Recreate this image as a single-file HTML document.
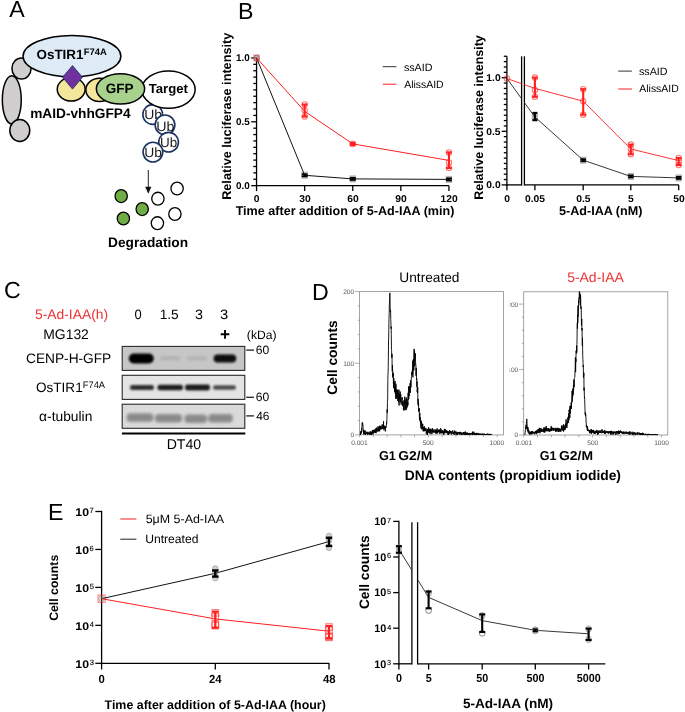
<!DOCTYPE html>
<html><head><meta charset="utf-8"><title>Figure</title>
<style>
html,body{margin:0;padding:0;background:#fff;}
svg{display:block;will-change:transform;}
text{font-family:"Liberation Sans",sans-serif;text-rendering:geometricPrecision;}
</style></head>
<body>
<svg width="685" height="712" viewBox="0 0 685 712">
<text x="9.25" y="17.00" font-size="23.20" font-weight="normal" fill="#000">A</text>
<text x="238.00" y="19.00" font-size="23.20" font-weight="normal" fill="#000">B</text>
<text x="4.12" y="298.30" font-size="23.20" font-weight="normal" fill="#000">C</text>
<text x="311.90" y="299.80" font-size="23.20" font-weight="normal" fill="#000">D</text>
<text x="48.00" y="520.00" font-size="23.20" font-weight="normal" fill="#000">E</text>
<ellipse cx="21.50" cy="68.50" rx="9.55" ry="10.45" fill="#d0cece" stroke="#000" stroke-width="1.5"/>
<ellipse cx="11.80" cy="99.80" rx="9.45" ry="24.15" fill="#d0cece" stroke="#000" stroke-width="1.5"/>
<ellipse cx="19.80" cy="130.50" rx="9.95" ry="11.05" fill="#d0cece" stroke="#000" stroke-width="1.5"/>
<ellipse cx="71.20" cy="89.30" rx="13.95" ry="11.75" fill="#f4e69a" stroke="#000" stroke-width="1.5"/>
<ellipse cx="71.95" cy="56.15" rx="48.90" ry="20.70" fill="#deebf7" stroke="#000" stroke-width="1.5"/>
<ellipse cx="99.70" cy="89.85" rx="13.85" ry="11.65" fill="#f4e69a" stroke="#000" stroke-width="1.5"/>
<circle cx="152.7" cy="114.5" r="9.85" fill="#fff" stroke="#1c3260" stroke-width="1.6"/>
<text x="144.22" y="118.80" font-size="13.33" font-weight="normal" fill="#1a1a1a" textLength="17.87" lengthAdjust="spacingAndGlyphs">Ub</text>
<circle cx="165.0" cy="124.9" r="9.85" fill="#fff" stroke="#1c3260" stroke-width="1.6"/>
<text x="156.20" y="131.00" font-size="13.33" font-weight="normal" fill="#1a1a1a" textLength="18.20" lengthAdjust="spacingAndGlyphs">Ub</text>
<circle cx="168.6" cy="142.2" r="9.85" fill="#fff" stroke="#1c3260" stroke-width="1.6"/>
<text x="159.96" y="147.00" font-size="13.33" font-weight="normal" fill="#1a1a1a" textLength="17.21" lengthAdjust="spacingAndGlyphs">Ub</text>
<circle cx="152.9" cy="152.1" r="9.85" fill="#fff" stroke="#1c3260" stroke-width="1.6"/>
<text x="144.23" y="157.40" font-size="13.33" font-weight="normal" fill="#1a1a1a" textLength="17.76" lengthAdjust="spacingAndGlyphs">Ub</text>
<ellipse cx="168.50" cy="89.60" rx="26.65" ry="18.65" fill="#fff" stroke="#000" stroke-width="1.5"/>
<ellipse cx="120.50" cy="88.85" rx="24.15" ry="15.15" fill="#a9d18e" stroke="#000" stroke-width="1.5"/>
<polygon points="72.5,65.6 82.4,77.3 72.5,89.1 62.6,77.3" fill="#7030a0" stroke="#1f3864" stroke-width="0.9"/>
<text x="36.55" y="59.40" font-size="13.40" font-weight="bold" fill="#000">OsTIR1</text>
<text x="83.77" y="54.80" font-size="9.40" font-weight="bold" fill="#000">F74A</text>
<text x="30.20" y="117.80" font-size="13.69" font-weight="bold" fill="#000">mAID-vhhGFP4</text>
<text x="105.75" y="93.30" font-size="13.53" font-weight="bold" fill="#000">GFP</text>
<text x="148.66" y="93.30" font-size="13.15" font-weight="bold" fill="#000">Target</text>
<line x1="148.30" y1="170.00" x2="148.30" y2="188.00" stroke="#222" stroke-width="1.0"/>
<polygon points="145.2,186.8 151.4,186.8 148.3,193.8" fill="#111"/>
<ellipse cx="121.20" cy="196.10" rx="6.15" ry="6.45" fill="#70ad47" stroke="#000" stroke-width="1.3"/>
<ellipse cx="123.40" cy="218.50" rx="6.15" ry="6.45" fill="#70ad47" stroke="#000" stroke-width="1.3"/>
<ellipse cx="142.20" cy="209.10" rx="6.15" ry="6.45" fill="#70ad47" stroke="#000" stroke-width="1.3"/>
<ellipse cx="157.90" cy="198.70" rx="6.15" ry="6.45" fill="#fff" stroke="#000" stroke-width="1.3"/>
<ellipse cx="177.10" cy="188.50" rx="6.15" ry="6.45" fill="#fff" stroke="#000" stroke-width="1.3"/>
<ellipse cx="174.90" cy="214.00" rx="6.15" ry="6.45" fill="#fff" stroke="#000" stroke-width="1.3"/>
<ellipse cx="157.40" cy="223.20" rx="6.15" ry="6.45" fill="#fff" stroke="#000" stroke-width="1.3"/>
<text x="108.08" y="246.70" font-size="13.71" font-weight="bold" fill="#000">Degradation</text>
<line x1="256.55" y1="57.35" x2="256.55" y2="186.30" stroke="#000" stroke-width="1.3"/>
<line x1="255.95" y1="185.65" x2="448.90" y2="185.65" stroke="#000" stroke-width="1.3"/>
<line x1="251.20" y1="185.65" x2="256.55" y2="185.65" stroke="#000" stroke-width="1.3"/>
<line x1="253.30" y1="179.27" x2="256.55" y2="179.27" stroke="#000" stroke-width="1.3"/>
<line x1="253.30" y1="172.88" x2="256.55" y2="172.88" stroke="#000" stroke-width="1.3"/>
<line x1="253.30" y1="166.50" x2="256.55" y2="166.50" stroke="#000" stroke-width="1.3"/>
<line x1="253.30" y1="160.11" x2="256.55" y2="160.11" stroke="#000" stroke-width="1.3"/>
<line x1="253.30" y1="153.72" x2="256.55" y2="153.72" stroke="#000" stroke-width="1.3"/>
<line x1="253.30" y1="147.34" x2="256.55" y2="147.34" stroke="#000" stroke-width="1.3"/>
<line x1="253.30" y1="140.95" x2="256.55" y2="140.95" stroke="#000" stroke-width="1.3"/>
<line x1="253.30" y1="134.57" x2="256.55" y2="134.57" stroke="#000" stroke-width="1.3"/>
<line x1="253.30" y1="128.19" x2="256.55" y2="128.19" stroke="#000" stroke-width="1.3"/>
<line x1="251.20" y1="121.80" x2="256.55" y2="121.80" stroke="#000" stroke-width="1.3"/>
<line x1="253.30" y1="115.41" x2="256.55" y2="115.41" stroke="#000" stroke-width="1.3"/>
<line x1="253.30" y1="109.03" x2="256.55" y2="109.03" stroke="#000" stroke-width="1.3"/>
<line x1="253.30" y1="102.64" x2="256.55" y2="102.64" stroke="#000" stroke-width="1.3"/>
<line x1="253.30" y1="96.26" x2="256.55" y2="96.26" stroke="#000" stroke-width="1.3"/>
<line x1="253.30" y1="89.88" x2="256.55" y2="89.88" stroke="#000" stroke-width="1.3"/>
<line x1="253.30" y1="83.49" x2="256.55" y2="83.49" stroke="#000" stroke-width="1.3"/>
<line x1="253.30" y1="77.10" x2="256.55" y2="77.10" stroke="#000" stroke-width="1.3"/>
<line x1="253.30" y1="70.72" x2="256.55" y2="70.72" stroke="#000" stroke-width="1.3"/>
<line x1="253.30" y1="64.33" x2="256.55" y2="64.33" stroke="#000" stroke-width="1.3"/>
<line x1="251.20" y1="57.95" x2="256.55" y2="57.95" stroke="#000" stroke-width="1.3"/>
<line x1="256.55" y1="185.65" x2="256.55" y2="191.10" stroke="#000" stroke-width="1.3"/>
<text x="253.89" y="202.30" font-size="9.90" font-weight="bold" fill="#000" textLength="5.73" lengthAdjust="spacingAndGlyphs">0</text>
<line x1="304.65" y1="185.65" x2="304.65" y2="191.10" stroke="#000" stroke-width="1.3"/>
<text x="299.22" y="202.30" font-size="9.90" font-weight="bold" fill="#000" textLength="11.45" lengthAdjust="spacingAndGlyphs">30</text>
<line x1="352.75" y1="185.65" x2="352.75" y2="191.10" stroke="#000" stroke-width="1.3"/>
<text x="347.25" y="202.30" font-size="9.90" font-weight="bold" fill="#000" textLength="11.45" lengthAdjust="spacingAndGlyphs">60</text>
<line x1="400.85" y1="185.65" x2="400.85" y2="191.10" stroke="#000" stroke-width="1.3"/>
<text x="395.36" y="202.30" font-size="9.90" font-weight="bold" fill="#000" textLength="11.45" lengthAdjust="spacingAndGlyphs">90</text>
<line x1="448.95" y1="185.65" x2="448.95" y2="191.10" stroke="#000" stroke-width="1.3"/>
<text x="440.45" y="202.30" font-size="9.90" font-weight="bold" fill="#000" textLength="17.18" lengthAdjust="spacingAndGlyphs">120</text>
<text x="236.04" y="61.15" font-size="9.90" font-weight="bold" fill="#000">1.0</text>
<text x="235.92" y="125.00" font-size="9.90" font-weight="bold" fill="#000">0.5</text>
<text x="236.04" y="188.85" font-size="9.90" font-weight="bold" fill="#000">0.0</text>
<text transform="translate(230.60,199.85) rotate(-90)" font-size="12.70" font-weight="bold" fill="#000">Relative luciferase intensity</text>
<text x="235.66" y="214.50" font-size="12.59" font-weight="bold" fill="#000">Time after addition of 5-Ad-IAA (min)</text>
<line x1="382.70" y1="66.70" x2="396.40" y2="66.70" stroke="#333" stroke-width="1.0"/>
<text x="403.90" y="70.70" font-size="10.73" font-weight="normal" fill="#000">ssAID</text>
<line x1="382.70" y1="84.20" x2="396.40" y2="84.20" stroke="#ff1f1f" stroke-width="1.0"/>
<text x="404.18" y="87.70" font-size="10.46" font-weight="normal" fill="#000">AlissAID</text>
<rect x="253.40" y="54.40" width="6.3" height="7" fill="#9a9a9a" fill-opacity="0.75"/>
<rect x="301.50" y="171.80" width="6.3" height="7" fill="#9a9a9a" fill-opacity="0.75"/>
<rect x="349.60" y="175.40" width="6.3" height="7" fill="#9a9a9a" fill-opacity="0.75"/>
<rect x="445.80" y="175.90" width="6.3" height="7" fill="#9a9a9a" fill-opacity="0.75"/>
<polyline points="256.55,57.90 304.65,175.30 352.75,178.90 448.95,179.40" fill="none" stroke="#111" stroke-width="1.0"/>
<line x1="304.65" y1="174.30" x2="304.65" y2="176.30" stroke="#000" stroke-width="1.8"/>
<line x1="301.65" y1="174.30" x2="307.65" y2="174.30" stroke="#000" stroke-width="1.8"/>
<line x1="301.65" y1="176.30" x2="307.65" y2="176.30" stroke="#000" stroke-width="1.8"/>
<line x1="352.75" y1="177.90" x2="352.75" y2="179.90" stroke="#000" stroke-width="1.8"/>
<line x1="349.75" y1="177.90" x2="355.75" y2="177.90" stroke="#000" stroke-width="1.8"/>
<line x1="349.75" y1="179.90" x2="355.75" y2="179.90" stroke="#000" stroke-width="1.8"/>
<line x1="448.95" y1="178.40" x2="448.95" y2="180.40" stroke="#000" stroke-width="1.8"/>
<line x1="445.95" y1="178.40" x2="451.95" y2="178.40" stroke="#000" stroke-width="1.8"/>
<line x1="445.95" y1="180.40" x2="451.95" y2="180.40" stroke="#000" stroke-width="1.8"/>
<polyline points="256.55,57.90 304.65,111.30 352.75,143.90 448.95,160.40" fill="none" stroke="#ff1f1f" stroke-width="1.0"/>
<circle cx="304.65" cy="104.50" r="2.7" fill="none" stroke="#ff1f1f" stroke-opacity="0.6" stroke-width="1.1"/>
<circle cx="304.65" cy="110.20" r="2.7" fill="none" stroke="#ff1f1f" stroke-opacity="0.6" stroke-width="1.1"/>
<circle cx="304.65" cy="116.50" r="2.7" fill="none" stroke="#ff1f1f" stroke-opacity="0.6" stroke-width="1.1"/>
<line x1="304.65" y1="104.50" x2="304.65" y2="116.50" stroke="#ff1f1f" stroke-width="2.1"/>
<line x1="301.90" y1="104.50" x2="307.40" y2="104.50" stroke="#ff1f1f" stroke-width="2.1"/>
<line x1="301.90" y1="116.50" x2="307.40" y2="116.50" stroke="#ff1f1f" stroke-width="2.1"/>
<circle cx="352.75" cy="143.9" r="3.5" fill="#ff1f1f" fill-opacity="0.5"/>
<rect x="349.95" y="141.8" width="5.6" height="4.2" fill="#ff1f1f"/>
<circle cx="448.95" cy="152.40" r="2.7" fill="none" stroke="#ff1f1f" stroke-opacity="0.6" stroke-width="1.1"/>
<circle cx="448.95" cy="162.50" r="2.7" fill="none" stroke="#ff1f1f" stroke-opacity="0.6" stroke-width="1.1"/>
<circle cx="448.95" cy="168.00" r="2.7" fill="none" stroke="#ff1f1f" stroke-opacity="0.6" stroke-width="1.1"/>
<line x1="448.95" y1="152.40" x2="448.95" y2="168.00" stroke="#ff1f1f" stroke-width="2.1"/>
<line x1="446.20" y1="152.40" x2="451.70" y2="152.40" stroke="#ff1f1f" stroke-width="2.1"/>
<line x1="446.20" y1="168.00" x2="451.70" y2="168.00" stroke="#ff1f1f" stroke-width="2.1"/>
<circle cx="256.55" cy="57.90" r="2.7" fill="none" stroke="#ff1f1f" stroke-opacity="0.6" stroke-width="1.1"/>
<line x1="506.90" y1="56.26" x2="506.90" y2="185.55" stroke="#000" stroke-width="1.3"/>
<line x1="506.30" y1="184.90" x2="521.60" y2="184.90" stroke="#000" stroke-width="1.3"/>
<line x1="524.40" y1="184.90" x2="678.90" y2="184.90" stroke="#000" stroke-width="1.3"/>
<line x1="521.60" y1="56.30" x2="521.60" y2="185.55" stroke="#000" stroke-width="1.3"/>
<line x1="524.40" y1="56.30" x2="524.40" y2="185.55" stroke="#000" stroke-width="1.3"/>
<line x1="501.70" y1="184.90" x2="506.90" y2="184.90" stroke="#000" stroke-width="1.3"/>
<line x1="503.80" y1="179.54" x2="506.90" y2="179.54" stroke="#000" stroke-width="1.3"/>
<line x1="503.80" y1="174.18" x2="506.90" y2="174.18" stroke="#000" stroke-width="1.3"/>
<line x1="503.80" y1="168.82" x2="506.90" y2="168.82" stroke="#000" stroke-width="1.3"/>
<line x1="503.80" y1="163.46" x2="506.90" y2="163.46" stroke="#000" stroke-width="1.3"/>
<line x1="503.80" y1="158.10" x2="506.90" y2="158.10" stroke="#000" stroke-width="1.3"/>
<line x1="503.80" y1="152.74" x2="506.90" y2="152.74" stroke="#000" stroke-width="1.3"/>
<line x1="503.80" y1="147.38" x2="506.90" y2="147.38" stroke="#000" stroke-width="1.3"/>
<line x1="503.80" y1="142.02" x2="506.90" y2="142.02" stroke="#000" stroke-width="1.3"/>
<line x1="503.80" y1="136.66" x2="506.90" y2="136.66" stroke="#000" stroke-width="1.3"/>
<line x1="501.70" y1="131.30" x2="506.90" y2="131.30" stroke="#000" stroke-width="1.3"/>
<line x1="503.80" y1="125.94" x2="506.90" y2="125.94" stroke="#000" stroke-width="1.3"/>
<line x1="503.80" y1="120.58" x2="506.90" y2="120.58" stroke="#000" stroke-width="1.3"/>
<line x1="503.80" y1="115.22" x2="506.90" y2="115.22" stroke="#000" stroke-width="1.3"/>
<line x1="503.80" y1="109.86" x2="506.90" y2="109.86" stroke="#000" stroke-width="1.3"/>
<line x1="503.80" y1="104.50" x2="506.90" y2="104.50" stroke="#000" stroke-width="1.3"/>
<line x1="503.80" y1="99.14" x2="506.90" y2="99.14" stroke="#000" stroke-width="1.3"/>
<line x1="503.80" y1="93.78" x2="506.90" y2="93.78" stroke="#000" stroke-width="1.3"/>
<line x1="503.80" y1="88.42" x2="506.90" y2="88.42" stroke="#000" stroke-width="1.3"/>
<line x1="503.80" y1="83.06" x2="506.90" y2="83.06" stroke="#000" stroke-width="1.3"/>
<line x1="501.70" y1="77.70" x2="506.90" y2="77.70" stroke="#000" stroke-width="1.3"/>
<line x1="503.80" y1="72.34" x2="506.90" y2="72.34" stroke="#000" stroke-width="1.3"/>
<line x1="503.80" y1="66.98" x2="506.90" y2="66.98" stroke="#000" stroke-width="1.3"/>
<line x1="503.80" y1="61.62" x2="506.90" y2="61.62" stroke="#000" stroke-width="1.3"/>
<line x1="503.80" y1="56.26" x2="506.90" y2="56.26" stroke="#000" stroke-width="1.3"/>
<text x="486.31" y="80.90" font-size="9.90" font-weight="bold" fill="#000" textLength="14.31" lengthAdjust="spacingAndGlyphs">1.0</text>
<text x="486.18" y="134.50" font-size="9.90" font-weight="bold" fill="#000" textLength="14.31" lengthAdjust="spacingAndGlyphs">0.5</text>
<text x="486.31" y="188.10" font-size="9.90" font-weight="bold" fill="#000" textLength="14.31" lengthAdjust="spacingAndGlyphs">0.0</text>
<line x1="506.90" y1="184.90" x2="506.90" y2="190.20" stroke="#000" stroke-width="1.3"/>
<text x="504.24" y="202.00" font-size="9.90" font-weight="bold" fill="#000" textLength="5.73" lengthAdjust="spacingAndGlyphs">0</text>
<line x1="534.90" y1="184.90" x2="534.90" y2="190.20" stroke="#000" stroke-width="1.3"/>
<text x="525.02" y="202.00" font-size="9.90" font-weight="bold" fill="#000" textLength="20.04" lengthAdjust="spacingAndGlyphs">0.05</text>
<line x1="583.20" y1="184.90" x2="583.20" y2="190.20" stroke="#000" stroke-width="1.3"/>
<text x="576.18" y="202.00" font-size="9.90" font-weight="bold" fill="#000" textLength="14.31" lengthAdjust="spacingAndGlyphs">0.5</text>
<line x1="630.80" y1="184.90" x2="630.80" y2="190.20" stroke="#000" stroke-width="1.3"/>
<text x="628.12" y="202.00" font-size="9.90" font-weight="bold" fill="#000" textLength="5.73" lengthAdjust="spacingAndGlyphs">5</text>
<line x1="678.70" y1="184.90" x2="678.70" y2="190.20" stroke="#000" stroke-width="1.3"/>
<text x="673.23" y="202.00" font-size="9.90" font-weight="bold" fill="#000" textLength="11.45" lengthAdjust="spacingAndGlyphs">50</text>
<text transform="translate(482.60,199.84) rotate(-90)" font-size="12.51" font-weight="bold" fill="#000">Relative luciferase intensity</text>
<text x="559.01" y="215.10" font-size="12.59" font-weight="bold" fill="#000">5-Ad-IAA (nM)</text>
<line x1="618.20" y1="71.10" x2="631.90" y2="71.10" stroke="#333" stroke-width="1.0"/>
<text x="639.00" y="74.90" font-size="10.73" font-weight="normal" fill="#000">ssAID</text>
<line x1="618.20" y1="89.00" x2="631.90" y2="89.00" stroke="#ff1f1f" stroke-width="1.0"/>
<text x="639.28" y="92.20" font-size="10.46" font-weight="normal" fill="#000">AlissAID</text>
<rect x="531.75" y="113.50" width="6.3" height="7" fill="#9a9a9a" fill-opacity="0.75"/>
<rect x="580.05" y="156.70" width="6.3" height="7" fill="#9a9a9a" fill-opacity="0.75"/>
<rect x="627.65" y="172.90" width="6.3" height="7" fill="#9a9a9a" fill-opacity="0.75"/>
<rect x="675.55" y="174.40" width="6.3" height="7" fill="#9a9a9a" fill-opacity="0.75"/>
<clipPath id="brk"><rect x="0" y="0" width="521.6" height="712"/><rect x="524.4" y="0" width="200" height="712"/></clipPath>
<polyline points="506.90,78.50 534.90,117.00 583.20,160.20 630.80,176.40 678.70,177.90" fill="none" stroke="#222" stroke-width="0.9" clip-path="url(#brk)"/>
<line x1="534.90" y1="112.90" x2="534.90" y2="120.20" stroke="#000" stroke-width="2.1"/>
<line x1="532.40" y1="112.90" x2="537.40" y2="112.90" stroke="#000" stroke-width="2.1"/>
<line x1="532.40" y1="120.20" x2="537.40" y2="120.20" stroke="#000" stroke-width="2.1"/>
<line x1="583.20" y1="159.20" x2="583.20" y2="161.20" stroke="#000" stroke-width="1.8"/>
<line x1="580.45" y1="159.20" x2="585.95" y2="159.20" stroke="#000" stroke-width="1.8"/>
<line x1="580.45" y1="161.20" x2="585.95" y2="161.20" stroke="#000" stroke-width="1.8"/>
<line x1="630.80" y1="175.40" x2="630.80" y2="177.40" stroke="#000" stroke-width="1.8"/>
<line x1="628.05" y1="175.40" x2="633.55" y2="175.40" stroke="#000" stroke-width="1.8"/>
<line x1="628.05" y1="177.40" x2="633.55" y2="177.40" stroke="#000" stroke-width="1.8"/>
<line x1="678.70" y1="176.90" x2="678.70" y2="178.90" stroke="#000" stroke-width="1.8"/>
<line x1="675.95" y1="176.90" x2="681.45" y2="176.90" stroke="#000" stroke-width="1.8"/>
<line x1="675.95" y1="178.90" x2="681.45" y2="178.90" stroke="#000" stroke-width="1.8"/>
<polyline points="506.90,78.50 534.90,88.40 583.20,101.20 630.80,149.00 678.70,160.60" fill="none" stroke="#ff1f1f" stroke-width="0.9" clip-path="url(#brk)"/>
<circle cx="506.90" cy="78.50" r="2.7" fill="none" stroke="#ff1f1f" stroke-opacity="0.6" stroke-width="1.1"/>
<circle cx="534.90" cy="77.60" r="2.7" fill="none" stroke="#ff1f1f" stroke-opacity="0.6" stroke-width="1.1"/>
<circle cx="534.90" cy="90.00" r="2.7" fill="none" stroke="#ff1f1f" stroke-opacity="0.6" stroke-width="1.1"/>
<circle cx="534.90" cy="96.80" r="2.7" fill="none" stroke="#ff1f1f" stroke-opacity="0.6" stroke-width="1.1"/>
<line x1="534.90" y1="77.60" x2="534.90" y2="96.80" stroke="#ff1f1f" stroke-width="2.1"/>
<line x1="532.15" y1="77.60" x2="537.65" y2="77.60" stroke="#ff1f1f" stroke-width="2.1"/>
<line x1="532.15" y1="96.80" x2="537.65" y2="96.80" stroke="#ff1f1f" stroke-width="2.1"/>
<circle cx="583.20" cy="89.20" r="2.7" fill="none" stroke="#ff1f1f" stroke-opacity="0.6" stroke-width="1.1"/>
<circle cx="583.20" cy="101.20" r="2.7" fill="none" stroke="#ff1f1f" stroke-opacity="0.6" stroke-width="1.1"/>
<circle cx="583.20" cy="114.70" r="2.7" fill="none" stroke="#ff1f1f" stroke-opacity="0.6" stroke-width="1.1"/>
<line x1="583.20" y1="89.20" x2="583.20" y2="114.70" stroke="#ff1f1f" stroke-width="2.1"/>
<line x1="580.45" y1="89.20" x2="585.95" y2="89.20" stroke="#ff1f1f" stroke-width="2.1"/>
<line x1="580.45" y1="114.70" x2="585.95" y2="114.70" stroke="#ff1f1f" stroke-width="2.1"/>
<circle cx="630.80" cy="144.60" r="2.7" fill="none" stroke="#ff1f1f" stroke-opacity="0.6" stroke-width="1.1"/>
<circle cx="630.80" cy="149.00" r="2.7" fill="none" stroke="#ff1f1f" stroke-opacity="0.6" stroke-width="1.1"/>
<circle cx="630.80" cy="154.20" r="2.7" fill="none" stroke="#ff1f1f" stroke-opacity="0.6" stroke-width="1.1"/>
<line x1="630.80" y1="144.60" x2="630.80" y2="154.20" stroke="#ff1f1f" stroke-width="2.1"/>
<line x1="628.05" y1="144.60" x2="633.55" y2="144.60" stroke="#ff1f1f" stroke-width="2.1"/>
<line x1="628.05" y1="154.20" x2="633.55" y2="154.20" stroke="#ff1f1f" stroke-width="2.1"/>
<circle cx="678.70" cy="158.00" r="2.7" fill="none" stroke="#ff1f1f" stroke-opacity="0.6" stroke-width="1.1"/>
<circle cx="678.70" cy="161.00" r="2.7" fill="none" stroke="#ff1f1f" stroke-opacity="0.6" stroke-width="1.1"/>
<circle cx="678.70" cy="165.00" r="2.7" fill="none" stroke="#ff1f1f" stroke-opacity="0.6" stroke-width="1.1"/>
<line x1="678.70" y1="158.00" x2="678.70" y2="165.00" stroke="#ff1f1f" stroke-width="2.1"/>
<line x1="675.95" y1="158.00" x2="681.45" y2="158.00" stroke="#ff1f1f" stroke-width="2.1"/>
<line x1="675.95" y1="165.00" x2="681.45" y2="165.00" stroke="#ff1f1f" stroke-width="2.1"/>
<text x="34.95" y="318.80" font-size="13.87" font-weight="normal" fill="#ee3333">5-Ad-IAA(h)</text>
<text x="134.39" y="318.80" font-size="13.62" font-weight="normal" fill="#000" textLength="7.21" lengthAdjust="spacingAndGlyphs">0</text>
<text x="159.65" y="318.80" font-size="13.62" font-weight="normal" fill="#000" textLength="19.13" lengthAdjust="spacingAndGlyphs">1.5</text>
<text x="194.95" y="318.80" font-size="13.62" font-weight="normal" fill="#000" textLength="7.98" lengthAdjust="spacingAndGlyphs">3</text>
<text x="219.94" y="318.80" font-size="13.62" font-weight="normal" fill="#000" textLength="8.21" lengthAdjust="spacingAndGlyphs">3</text>
<text x="220.08" y="339.90" font-size="17.17" font-weight="bold" fill="#000">+</text>
<text x="43.26" y="338.50" font-size="13.92" font-weight="normal" fill="#000">MG132</text>
<text x="246.85" y="339.40" font-size="12.11" font-weight="normal" fill="#000">(kDa)</text>
<text x="26.00" y="363.00" font-size="13.71" font-weight="normal" fill="#000">CENP-H-GFP</text>
<text x="35.96" y="392.10" font-size="13.59" font-weight="normal" fill="#000">OsTIR1</text>
<text x="82.84" y="388.20" font-size="9.32" font-weight="normal" fill="#000">F74A</text>
<text x="39.12" y="420.50" font-size="13.81" font-weight="normal" fill="#000">α-tubulin</text>
<line x1="246.20" y1="350.10" x2="254.00" y2="350.10" stroke="#222" stroke-width="1.3"/>
<text x="255.78" y="353.90" font-size="12.13" font-weight="normal" fill="#000">60</text>
<line x1="246.20" y1="397.30" x2="254.00" y2="397.30" stroke="#222" stroke-width="1.3"/>
<text x="255.78" y="401.30" font-size="12.13" font-weight="normal" fill="#000">60</text>
<line x1="246.20" y1="415.90" x2="254.00" y2="415.90" stroke="#222" stroke-width="1.3"/>
<text x="256.13" y="419.90" font-size="11.87" font-weight="normal" fill="#000">46</text>
<defs>
<filter id="blur1" x="-20%" y="-60%" width="140%" height="220%"><feGaussianBlur stdDeviation="1.3"/></filter>
<filter id="blur2" x="-20%" y="-60%" width="140%" height="220%"><feGaussianBlur stdDeviation="1.0"/></filter>
<filter id="blur3" x="-20%" y="-60%" width="140%" height="220%"><feGaussianBlur stdDeviation="1.6"/></filter>
</defs>
<rect x="122.2" y="346.4" width="122.6" height="24.0" fill="#c6c6c6"/>
<g filter="url(#blur1)">
<rect x="128.8" y="353.6" width="25" height="9.8" rx="4.9" fill="#000"/>
<rect x="213.6" y="354.6" width="22.6" height="7.8" rx="3.9" fill="#080808"/>
<rect x="160" y="356" width="20" height="4.5" rx="2" fill="#b4b4b4"/>
<rect x="187" y="356" width="20" height="4.5" rx="2" fill="#b6b6b6"/>
</g>
<rect x="122.2" y="346.4" width="122.6" height="24.0" fill="none" stroke="#2a2a2a" stroke-width="1.1"/>
<rect x="122.2" y="375.3" width="122.6" height="24.1" fill="#e4e4e4"/>
<g filter="url(#blur2)">
<rect x="130.0" y="385.00" width="24.0" height="5.0" rx="2.3" fill="#2e2e2e"/>
<rect x="157.5" y="384.70" width="25.5" height="5.6" rx="2.3" fill="#1e1e1e"/>
<rect x="185.0" y="384.60" width="25.0" height="5.8" rx="2.3" fill="#1e1e1e"/>
<rect x="213.0" y="385.20" width="23.0" height="4.6" rx="2.3" fill="#4a4a4a"/>
</g>
<rect x="122.2" y="375.3" width="122.6" height="24.1" fill="none" stroke="#2a2a2a" stroke-width="1.1"/>
<rect x="122.2" y="404.2" width="122.6" height="24.1" fill="#dadada"/>
<g filter="url(#blur3)">
<rect x="126.7" y="413.3" width="26.6" height="8.4" rx="3.5" fill="#8a8a8a"/>
<rect x="155.0" y="414.0" width="27.0" height="8.4" rx="3.5" fill="#8a8a8a"/>
<rect x="184.5" y="414.5" width="22.5" height="8.4" rx="3.5" fill="#8a8a8a"/>
<rect x="208.2" y="414.0" width="24.5" height="8.4" rx="3.5" fill="#8a8a8a"/>
</g>
<rect x="122.2" y="404.2" width="122.6" height="24.1" fill="none" stroke="#2a2a2a" stroke-width="1.1"/>
<line x1="121.90" y1="433.60" x2="245.30" y2="433.60" stroke="#000" stroke-width="2.0"/>
<text x="166.64" y="448.90" font-size="14.11" font-weight="normal" fill="#000">DT40</text>
<text x="399.35" y="282.30" font-size="13.69" font-weight="normal" fill="#000">Untreated</text>
<text x="567.14" y="282.30" font-size="13.97" font-weight="normal" fill="#ee3333">5-Ad-IAA</text>
<text transform="translate(337.10,394.77) rotate(-90)" font-size="13.83" font-weight="bold" fill="#000">Cell counts</text>
<text x="404.87" y="479.90" font-size="13.84" font-weight="bold" fill="#000">DNA contents (propidium iodide)</text>
<text x="378.88" y="459.90" font-size="12.90" font-weight="bold" fill="#000" textLength="16.98" lengthAdjust="spacingAndGlyphs">G1</text>
<text x="398.33" y="459.90" font-size="12.90" font-weight="bold" fill="#000" textLength="33.89" lengthAdjust="spacingAndGlyphs">G2/M</text>
<text x="539.68" y="459.90" font-size="12.90" font-weight="bold" fill="#000" textLength="16.77" lengthAdjust="spacingAndGlyphs">G1</text>
<text x="559.03" y="459.90" font-size="12.90" font-weight="bold" fill="#000" textLength="34.00" lengthAdjust="spacingAndGlyphs">G2/M</text>
<rect x="359.6" y="291.6" width="143.80" height="143.30" fill="none" stroke="#8c8c8c" stroke-width="0.8"/>
<line x1="354.90" y1="434.90" x2="359.60" y2="434.90" stroke="#8c8c8c" stroke-width="0.7"/>
<line x1="357.70" y1="420.57" x2="359.60" y2="420.57" stroke="#8c8c8c" stroke-width="0.7"/>
<line x1="357.70" y1="406.24" x2="359.60" y2="406.24" stroke="#8c8c8c" stroke-width="0.7"/>
<line x1="357.70" y1="391.91" x2="359.60" y2="391.91" stroke="#8c8c8c" stroke-width="0.7"/>
<line x1="357.70" y1="377.58" x2="359.60" y2="377.58" stroke="#8c8c8c" stroke-width="0.7"/>
<line x1="354.90" y1="363.25" x2="359.60" y2="363.25" stroke="#8c8c8c" stroke-width="0.7"/>
<line x1="357.70" y1="348.92" x2="359.60" y2="348.92" stroke="#8c8c8c" stroke-width="0.7"/>
<line x1="357.70" y1="334.59" x2="359.60" y2="334.59" stroke="#8c8c8c" stroke-width="0.7"/>
<line x1="357.70" y1="320.26" x2="359.60" y2="320.26" stroke="#8c8c8c" stroke-width="0.7"/>
<line x1="357.70" y1="305.93" x2="359.60" y2="305.93" stroke="#8c8c8c" stroke-width="0.7"/>
<line x1="354.90" y1="291.60" x2="359.60" y2="291.60" stroke="#8c8c8c" stroke-width="0.7"/>
<text x="343.15" y="293.90" font-size="6.60" font-weight="normal" fill="#555">200</text>
<text x="343.15" y="365.60" font-size="6.60" font-weight="normal" fill="#555">100</text>
<text x="350.49" y="437.20" font-size="6.60" font-weight="normal" fill="#555">0</text>
<text x="351.18" y="445.00" font-size="6.60" font-weight="normal" fill="#555">0.001</text>
<text x="422.69" y="445.00" font-size="6.60" font-weight="normal" fill="#555">500</text>
<text x="489.54" y="445.00" font-size="6.60" font-weight="normal" fill="#555">1000</text>
<line x1="359.60" y1="434.90" x2="359.60" y2="437.30" stroke="#8c8c8c" stroke-width="0.7"/>
<line x1="373.36" y1="434.90" x2="373.36" y2="437.30" stroke="#8c8c8c" stroke-width="0.7"/>
<line x1="387.12" y1="434.90" x2="387.12" y2="437.30" stroke="#8c8c8c" stroke-width="0.7"/>
<line x1="400.88" y1="434.90" x2="400.88" y2="437.30" stroke="#8c8c8c" stroke-width="0.7"/>
<line x1="414.64" y1="434.90" x2="414.64" y2="437.30" stroke="#8c8c8c" stroke-width="0.7"/>
<line x1="428.40" y1="434.90" x2="428.40" y2="437.30" stroke="#8c8c8c" stroke-width="0.7"/>
<line x1="442.16" y1="434.90" x2="442.16" y2="437.30" stroke="#8c8c8c" stroke-width="0.7"/>
<line x1="455.92" y1="434.90" x2="455.92" y2="437.30" stroke="#8c8c8c" stroke-width="0.7"/>
<line x1="469.68" y1="434.90" x2="469.68" y2="437.30" stroke="#8c8c8c" stroke-width="0.7"/>
<line x1="483.44" y1="434.90" x2="483.44" y2="437.30" stroke="#8c8c8c" stroke-width="0.7"/>
<line x1="497.20" y1="434.90" x2="497.20" y2="437.30" stroke="#8c8c8c" stroke-width="0.7"/>
<rect x="523.7" y="291.8" width="144.10" height="143.20" fill="none" stroke="#8c8c8c" stroke-width="0.8"/>
<line x1="519.00" y1="435.00" x2="523.70" y2="435.00" stroke="#8c8c8c" stroke-width="0.7"/>
<line x1="521.80" y1="421.91" x2="523.70" y2="421.91" stroke="#8c8c8c" stroke-width="0.7"/>
<line x1="521.80" y1="408.82" x2="523.70" y2="408.82" stroke="#8c8c8c" stroke-width="0.7"/>
<line x1="521.80" y1="395.73" x2="523.70" y2="395.73" stroke="#8c8c8c" stroke-width="0.7"/>
<line x1="521.80" y1="382.64" x2="523.70" y2="382.64" stroke="#8c8c8c" stroke-width="0.7"/>
<line x1="519.00" y1="369.55" x2="523.70" y2="369.55" stroke="#8c8c8c" stroke-width="0.7"/>
<line x1="521.80" y1="356.46" x2="523.70" y2="356.46" stroke="#8c8c8c" stroke-width="0.7"/>
<line x1="521.80" y1="343.37" x2="523.70" y2="343.37" stroke="#8c8c8c" stroke-width="0.7"/>
<line x1="521.80" y1="330.28" x2="523.70" y2="330.28" stroke="#8c8c8c" stroke-width="0.7"/>
<line x1="521.80" y1="317.19" x2="523.70" y2="317.19" stroke="#8c8c8c" stroke-width="0.7"/>
<line x1="519.00" y1="304.10" x2="523.70" y2="304.10" stroke="#8c8c8c" stroke-width="0.7"/>
<clipPath id="fc523"><rect x="509.6" y="0" width="100" height="712"/></clipPath><g clip-path="url(#fc523)">
<text x="507.25" y="306.60" font-size="6.60" font-weight="normal" fill="#555">200</text>
<text x="507.25" y="372.00" font-size="6.60" font-weight="normal" fill="#555">100</text>
<text x="514.59" y="437.30" font-size="6.60" font-weight="normal" fill="#555">0</text>
</g>
<text x="515.68" y="445.00" font-size="6.60" font-weight="normal" fill="#555">0.001</text>
<text x="587.29" y="445.00" font-size="6.60" font-weight="normal" fill="#555">500</text>
<text x="654.14" y="445.00" font-size="6.60" font-weight="normal" fill="#555">1000</text>
<line x1="523.70" y1="435.00" x2="523.70" y2="437.40" stroke="#8c8c8c" stroke-width="0.7"/>
<line x1="537.48" y1="435.00" x2="537.48" y2="437.40" stroke="#8c8c8c" stroke-width="0.7"/>
<line x1="551.26" y1="435.00" x2="551.26" y2="437.40" stroke="#8c8c8c" stroke-width="0.7"/>
<line x1="565.04" y1="435.00" x2="565.04" y2="437.40" stroke="#8c8c8c" stroke-width="0.7"/>
<line x1="578.82" y1="435.00" x2="578.82" y2="437.40" stroke="#8c8c8c" stroke-width="0.7"/>
<line x1="592.60" y1="435.00" x2="592.60" y2="437.40" stroke="#8c8c8c" stroke-width="0.7"/>
<line x1="606.38" y1="435.00" x2="606.38" y2="437.40" stroke="#8c8c8c" stroke-width="0.7"/>
<line x1="620.16" y1="435.00" x2="620.16" y2="437.40" stroke="#8c8c8c" stroke-width="0.7"/>
<line x1="633.94" y1="435.00" x2="633.94" y2="437.40" stroke="#8c8c8c" stroke-width="0.7"/>
<line x1="647.72" y1="435.00" x2="647.72" y2="437.40" stroke="#8c8c8c" stroke-width="0.7"/>
<line x1="661.50" y1="435.00" x2="661.50" y2="437.40" stroke="#8c8c8c" stroke-width="0.7"/>
<polyline points="359.90,434.22 360.04,434.37 360.18,434.29 360.32,434.15 360.46,433.24 360.60,434.90 360.73,431.62 360.87,431.77 361.01,433.01 361.15,430.77 361.29,433.41 361.43,431.12 361.57,431.46 361.71,428.27 361.85,429.34 361.99,424.56 362.12,424.62 362.26,422.39 362.40,424.44 362.54,422.94 362.68,423.35 362.82,426.17 362.96,425.70 363.10,429.46 363.24,431.55 363.38,429.89 363.51,433.27 363.65,429.77 363.79,434.45 363.93,430.64 364.07,432.36 364.21,433.97 364.35,433.56 364.49,433.84 364.63,431.97 364.77,430.99 364.90,432.74 365.04,430.39 365.18,434.65 365.32,433.20 365.46,434.74 365.60,433.69 365.74,433.93 365.88,433.00 366.02,431.61 366.16,433.33 366.29,433.03 366.43,433.26 366.57,433.05 366.71,433.94 366.85,432.49 366.99,432.77 367.13,432.95 367.27,433.56 367.41,432.16 367.55,434.90 367.68,434.31 367.82,433.53 367.96,431.78 368.10,431.96 368.24,432.31 368.38,433.49 368.52,433.71 368.66,432.68 368.80,434.34 368.94,433.29 369.07,433.25 369.21,433.90 369.35,432.58 369.49,432.72 369.63,434.80 369.77,433.75 369.91,433.16 370.05,434.37 370.19,431.25 370.33,432.98 370.46,431.76 370.60,434.40 370.74,433.84 370.88,433.82 371.02,432.68 371.16,432.29 371.30,433.36 371.44,434.90 371.58,431.66 371.72,434.61 371.85,432.64 371.99,432.49 372.13,432.70 372.27,433.13 372.41,429.98 372.55,432.91 372.69,433.40 372.83,432.13 372.97,434.38 373.11,430.62 373.24,433.23 373.38,430.36 373.52,430.87 373.66,431.56 373.80,431.26 373.94,432.81 374.08,431.29 374.22,429.53 374.36,431.95 374.50,431.65 374.63,429.93 374.77,432.98 374.91,432.53 375.05,429.97 375.19,431.35 375.33,430.28 375.47,430.99 375.61,432.97 375.75,430.71 375.89,428.23 376.02,433.15 376.16,431.32 376.30,429.19 376.44,431.45 376.58,427.60 376.72,429.42 376.86,429.56 377.00,429.53 377.14,431.42 377.28,429.37 377.41,428.81 377.55,431.35 377.69,429.23 377.83,429.93 377.97,426.33 378.11,428.32 378.25,428.99 378.39,430.91 378.53,427.90 378.67,431.40 378.80,427.64 378.94,430.88 379.08,428.15 379.22,426.56 379.36,428.70 379.50,427.97 379.64,431.27 379.78,425.65 379.92,429.92 380.06,427.13 380.19,428.35 380.33,427.10 380.47,427.70 380.61,425.98 380.75,426.91 380.89,427.00 381.03,429.46 381.17,427.02 381.31,429.06 381.45,429.07 381.58,428.10 381.72,426.40 381.86,426.07 382.00,424.68 382.14,425.44 382.28,426.14 382.42,428.72 382.56,426.65 382.70,428.19 382.84,425.28 382.97,424.39 383.11,425.02 383.25,425.59 383.39,428.04 383.53,421.22 383.67,426.96 383.81,429.38 383.95,430.25 384.09,425.59 384.23,427.32 384.36,428.74 384.50,428.46 384.64,426.32 384.78,427.46 384.92,425.97 385.06,428.51 385.20,426.97 385.34,431.35 385.48,426.39 385.62,426.87 385.75,427.86 385.89,427.78 386.03,426.95 386.17,427.28 386.31,425.68 386.45,425.67 386.59,422.34 386.73,423.20 386.87,419.49 387.01,416.13 387.14,409.40 387.28,412.82 387.42,402.71 387.56,400.98 387.70,398.16 387.84,379.62 387.98,374.11 388.12,372.79 388.26,366.68 388.40,355.07 388.53,340.14 388.67,339.01 388.81,329.87 388.95,319.25 389.09,317.13 389.23,310.60 389.37,304.17 389.51,302.99 389.65,296.48 389.79,293.22 389.92,292.82 390.06,299.32 390.20,311.83 390.34,309.88 390.48,310.78 390.62,310.62 390.76,319.73 390.90,321.65 391.04,328.59 391.18,326.65 391.31,334.57 391.45,349.13 391.59,350.28 391.73,357.34 391.87,357.93 392.01,353.88 392.15,368.34 392.29,371.56 392.43,365.13 392.57,369.36 392.70,372.76 392.84,377.62 392.98,372.47 393.12,376.18 393.26,373.42 393.40,383.75 393.54,382.12 393.68,388.09 393.82,378.28 393.96,388.00 394.09,384.43 394.23,381.96 394.37,387.96 394.51,391.59 394.65,386.12 394.79,392.20 394.93,389.56 395.07,381.03 395.21,389.50 395.35,393.58 395.48,387.42 395.62,393.28 395.76,398.82 395.90,383.77 396.04,386.31 396.18,391.16 396.32,390.14 396.46,398.63 396.60,392.56 396.74,393.70 396.87,389.10 397.01,393.02 397.15,390.43 397.29,393.35 397.43,390.11 397.57,398.46 397.71,401.03 397.85,400.30 397.99,390.37 398.13,394.64 398.26,398.55 398.40,396.38 398.54,401.92 398.68,402.23 398.82,397.59 398.96,389.64 399.10,405.47 399.24,393.62 399.38,397.10 399.52,395.04 399.65,396.02 399.79,400.22 399.93,395.75 400.07,398.60 400.21,391.54 400.35,399.92 400.49,402.26 400.63,395.27 400.77,394.10 400.91,397.50 401.04,399.01 401.18,404.76 401.32,401.44 401.46,401.50 401.60,401.16 401.74,400.00 401.88,398.55 402.02,399.31 402.16,397.17 402.30,402.94 402.43,401.42 402.57,406.06 402.71,404.84 402.85,403.62 402.99,403.14 403.13,402.65 403.27,404.21 403.41,410.07 403.55,405.93 403.69,405.74 403.82,404.28 403.96,400.34 404.10,410.56 404.24,401.20 404.38,403.98 404.52,403.30 404.66,397.90 404.80,396.70 404.94,400.92 405.08,407.73 405.21,409.81 405.35,405.57 405.49,409.29 405.63,407.71 405.77,399.47 405.91,407.11 406.05,408.98 406.19,410.09 406.33,397.42 406.47,399.35 406.60,402.81 406.74,408.33 406.88,403.27 407.02,407.23 407.16,399.10 407.30,401.50 407.44,405.83 407.58,402.21 407.72,403.04 407.86,403.01 407.99,405.37 408.13,392.84 408.27,399.79 408.41,393.01 408.55,386.41 408.69,399.06 408.83,396.87 408.97,396.53 409.11,394.52 409.25,394.92 409.38,395.99 409.52,395.15 409.66,386.23 409.80,391.09 409.94,392.01 410.08,383.15 410.22,392.92 410.36,388.88 410.50,386.61 410.64,388.03 410.77,380.27 410.91,387.08 411.05,380.39 411.19,380.15 411.33,377.85 411.47,376.39 411.61,376.29 411.75,373.08 411.89,371.73 412.03,374.91 412.16,372.44 412.30,373.96 412.44,368.82 412.58,374.07 412.72,360.58 412.86,377.33 413.00,368.87 413.14,365.21 413.28,366.21 413.42,358.99 413.55,367.39 413.69,358.94 413.83,370.45 413.97,353.77 414.11,348.86 414.25,366.49 414.39,356.67 414.53,351.21 414.67,354.67 414.81,361.02 414.94,354.21 415.08,354.88 415.22,358.29 415.36,353.28 415.50,358.44 415.64,365.23 415.78,364.55 415.92,365.31 416.06,375.80 416.20,367.85 416.33,368.96 416.47,378.07 416.61,380.00 416.75,378.54 416.89,386.87 417.03,381.17 417.17,391.72 417.31,390.40 417.45,392.77 417.59,393.06 417.72,387.07 417.86,401.45 418.00,404.58 418.14,398.85 418.28,402.06 418.42,406.14 418.56,403.34 418.70,411.70 418.84,408.54 418.98,410.87 419.11,409.07 419.25,408.34 419.39,416.09 419.53,420.11 419.67,417.78 419.81,412.88 419.95,420.07 420.09,420.57 420.23,417.33 420.37,422.62 420.50,420.25 420.64,420.48 420.78,422.90 420.92,428.25 421.06,422.64 421.20,425.36 421.34,420.78 421.48,425.46 421.62,422.76 421.76,426.52 421.89,429.44 422.03,423.81 422.17,424.81 422.31,425.65 422.45,428.57 422.59,427.62 422.73,423.89 422.87,429.11 423.01,430.14 423.15,431.20 423.28,428.98 423.42,426.82 423.56,431.22 423.70,428.01 423.84,429.10 423.98,431.02 424.12,428.01 424.26,428.99 424.40,428.99 424.54,426.44 424.67,431.24 424.81,430.42 424.95,428.01 425.09,430.53 425.23,430.58 425.37,430.90 425.51,429.43 425.65,430.22 425.79,429.53 425.93,427.94 426.06,430.77 426.20,431.37 426.34,434.27 426.48,431.02 426.62,430.70 426.76,431.92 426.90,429.92 427.04,429.64 427.18,430.09 427.32,428.95 427.45,434.90 427.59,429.35 427.73,431.30 427.87,430.04 428.01,430.99 428.15,430.88 428.29,429.35 428.43,429.60 428.57,427.45 428.71,428.98 428.84,432.99 428.98,428.45 429.12,431.83 429.26,429.11 429.40,433.38 429.54,431.47 429.68,431.44 429.82,431.44 429.96,433.25 430.10,430.45 430.23,432.55 430.37,431.35 430.51,428.79 430.65,429.86 430.79,429.76 430.93,431.99 431.07,434.17 431.21,430.29 431.35,431.24 431.49,429.67 431.62,430.53 431.76,429.76 431.90,431.68 432.04,430.35 432.18,433.59 432.32,427.99 432.46,430.24 432.60,430.26 432.74,431.60 432.88,431.09 433.01,431.82 433.15,430.05 433.29,431.99 433.43,430.68 433.57,430.58 433.71,431.74 433.85,429.33 433.99,433.08 434.13,431.66 434.27,431.39 434.40,431.53 434.54,430.99 434.68,432.12 434.82,432.17 434.96,430.87 435.10,429.27 435.24,430.04 435.38,430.96 435.52,430.78 435.66,432.90 435.79,431.53 435.93,433.54 436.07,431.43 436.21,430.31 436.35,432.24 436.49,431.86 436.63,429.54 436.77,432.25 436.91,433.98 437.05,433.63 437.18,428.38 437.32,433.00 437.46,431.81 437.60,431.19 437.74,432.60 437.88,430.12 438.02,432.10 438.16,430.53 438.30,430.32 438.44,431.99 438.57,430.93 438.71,430.60 438.85,432.29 438.99,429.76 439.13,431.57 439.27,429.54 439.41,431.58 439.55,431.13 439.69,430.41 439.83,433.96 439.96,432.14 440.10,429.82 440.24,431.08 440.38,433.00 440.52,432.26 440.66,428.23 440.80,431.70 440.94,431.47 441.08,429.49 441.22,432.29 441.35,433.40 441.49,431.83 441.63,431.00 441.77,432.96 441.91,432.00 442.05,432.10 442.19,431.85 442.33,433.00 442.47,431.45 442.61,431.72 442.74,429.96 442.88,431.58 443.02,433.60 443.16,433.16 443.30,430.92 443.44,432.08 443.58,432.52 443.72,434.86 443.86,432.87 444.00,431.18 444.13,431.23 444.27,433.61 444.41,428.87 444.55,431.42 444.69,432.78 444.83,430.91 444.97,432.40 445.11,430.45 445.25,431.47 445.39,432.34 445.52,429.32 445.66,431.69 445.80,432.38 445.94,432.47 446.08,431.64 446.22,433.18 446.36,431.08 446.50,430.42 446.64,430.38 446.78,432.12 446.91,430.87 447.05,432.36 447.19,432.51 447.33,432.29 447.47,430.88 447.61,431.37 447.75,434.19 447.89,431.11 448.03,432.78 448.17,432.18 448.30,434.90 448.44,433.95 448.58,431.85 448.72,434.48 448.86,431.60 449.00,431.68 449.14,433.54 449.28,431.22 449.42,431.02 449.56,430.03 449.69,433.16 449.83,432.59 449.97,431.28 450.11,431.58 450.25,433.33 450.39,431.04 450.53,430.91 450.67,432.80 450.81,431.53 450.95,431.06 451.08,431.36 451.22,432.28 451.36,434.42 451.50,432.22 451.64,433.54 451.78,433.24 451.92,433.37 452.06,433.89 452.20,431.18 452.34,432.09 452.47,431.90 452.61,430.72 452.75,430.40 452.89,430.43 453.03,433.34 453.17,433.31 453.31,433.95 453.45,432.17 453.59,433.79 453.73,432.97 453.86,433.32 454.00,432.63 454.14,434.90 454.28,433.60 454.42,431.78 454.56,432.94 454.70,430.54 454.84,433.02 454.98,431.92 455.12,432.69 455.25,431.59 455.39,432.07 455.53,432.93 455.67,432.48 455.81,432.77 455.95,434.66 456.09,433.00 456.23,431.56 456.37,434.18 456.51,433.56 456.64,433.43 456.78,432.53 456.92,434.90 457.06,434.90 457.20,433.23 457.34,432.96 457.48,432.97 457.62,434.90 457.76,432.16 457.90,433.34 458.03,433.83 458.17,433.14 458.31,431.97 458.45,432.90 458.59,432.24 458.73,433.49 458.87,433.01 459.01,432.36 459.15,431.93 459.29,432.84 459.42,434.54 459.56,433.86 459.70,434.20 459.84,433.46 459.98,432.55 460.12,433.97 460.26,431.86 460.40,432.81 460.54,432.90 460.68,432.51 460.81,432.08 460.95,434.62 461.09,433.32 461.23,433.13 461.37,432.73 461.51,434.63 461.65,433.10 461.79,433.22 461.93,433.26 462.07,434.90 462.20,432.88 462.34,433.77 462.48,432.78 462.62,434.10 462.76,433.05 462.90,434.09 463.04,433.52 463.18,433.36 463.32,432.63 463.46,434.02 463.59,432.02 463.73,434.48 463.87,434.62 464.01,434.90 464.15,434.20 464.29,433.77 464.43,434.83 464.57,434.87 464.71,434.33 464.85,431.95 464.98,433.36 465.12,434.90 465.26,431.47 465.40,433.87 465.54,433.58 465.68,433.16 465.82,434.11 465.96,434.41 466.10,433.57 466.24,434.90 466.37,433.76 466.51,433.82 466.65,432.89 466.79,433.31 466.93,434.35 467.07,432.34 467.21,434.60 467.35,433.52 467.49,434.90 467.63,433.85 467.76,434.37 467.90,433.67 468.04,434.13 468.18,434.90 468.32,433.92 468.46,433.60 468.60,433.86 468.74,433.06 468.88,433.43 469.02,432.94 469.15,434.90 469.29,433.81 469.43,433.18 469.57,433.88 469.71,433.26 469.85,433.92 469.99,433.93 470.13,433.33 470.27,434.13 470.41,434.56 470.54,433.13 470.68,434.87 470.82,433.23 470.96,433.81 471.10,433.04 471.24,433.92 471.38,433.73 471.52,433.98 471.66,433.73 471.80,433.90 471.93,434.43 472.07,434.74 472.21,434.90 472.35,431.96 472.49,434.74 472.63,434.64 472.77,434.90 472.91,431.56 473.05,434.10 473.19,434.32 473.32,434.66 473.46,434.42 473.60,434.65 473.74,434.32 473.88,431.79 474.02,433.56 474.16,434.20 474.30,433.33 474.44,434.70 474.58,434.11 474.71,434.76 474.85,434.54 474.99,433.64 475.13,434.53 475.27,433.49 475.41,433.24 475.55,433.88 475.69,434.90 475.83,433.38 475.97,434.84 476.10,433.31 476.24,434.90 476.38,434.90 476.52,434.90 476.66,432.83 476.80,434.90 476.94,434.35 477.08,434.63 477.22,434.90 477.36,433.81 477.49,433.61 477.63,433.63 477.77,432.98 477.91,433.94 478.05,434.12 478.19,434.90 478.33,433.24 478.47,434.27 478.61,434.54 478.75,434.90 478.88,433.92 479.02,434.90 479.16,433.73 479.30,434.22 479.44,434.57 479.58,434.19 479.72,434.90 479.86,434.42 480.00,433.51 480.14,433.72 480.27,434.10 480.41,433.82 480.55,433.88 480.69,434.75 480.83,434.20 480.97,434.03 481.11,434.29 481.25,434.34 481.39,434.90 481.53,434.48 481.66,434.90 481.80,434.51 481.94,434.90 482.08,433.34 482.22,434.26 482.36,434.60 482.50,434.90 482.64,434.14 482.78,434.80 482.92,434.56 483.05,434.20 483.19,434.41 483.33,434.90 483.47,433.94 483.61,434.90 483.75,434.45 483.89,433.83 484.03,433.66 484.17,434.68 484.31,433.98 484.44,434.90 484.58,433.86 484.72,434.75 484.86,434.90 485.00,434.27 485.14,434.60 485.28,434.90 485.42,434.32 485.56,434.90 485.70,434.59 485.83,434.90 485.97,434.39 486.11,434.08 486.25,434.47 486.39,434.85 486.53,433.95 486.67,434.64 486.81,434.19 486.95,434.13 487.09,433.91 487.22,434.90 487.36,433.84 487.50,434.23 487.64,433.78 487.78,434.26 487.92,433.91 488.06,434.00 488.20,434.90 488.34,434.90 488.48,434.90 488.61,433.92 488.75,433.81 488.89,434.42 489.03,434.06 489.17,434.90 489.31,434.90 489.45,434.90 489.59,434.37 489.73,434.32 489.87,434.90 490.00,434.90 490.14,434.76 490.28,433.88 490.42,434.21 490.56,434.90 490.70,434.23 490.84,434.43 490.98,434.90 491.12,434.69 491.26,434.63 491.39,434.90 491.53,434.90 491.67,434.54 491.81,434.90 491.95,434.71" fill="none" stroke="#000" stroke-width="0.9" stroke-linejoin="round"/>
<polyline points="524.80,435.00 524.94,434.32 525.08,432.92 525.22,432.33 525.36,429.95 525.50,429.55 525.63,429.31 525.77,426.95 525.91,429.17 526.05,424.87 526.19,429.08 526.33,423.79 526.47,422.28 526.61,423.17 526.75,418.85 526.89,421.59 527.02,424.98 527.16,424.83 527.30,425.70 527.44,428.29 527.58,427.37 527.72,431.30 527.86,427.05 528.00,429.44 528.14,429.41 528.28,432.63 528.41,430.42 528.55,430.28 528.69,429.68 528.83,430.36 528.97,432.08 529.11,433.84 529.25,431.46 529.39,433.97 529.53,432.82 529.67,433.01 529.80,434.65 529.94,432.67 530.08,432.77 530.22,432.81 530.36,432.79 530.50,433.52 530.64,432.54 530.78,434.25 530.92,431.53 531.06,433.79 531.19,433.82 531.33,432.41 531.47,434.30 531.61,431.24 531.75,432.66 531.89,433.55 532.03,433.11 532.17,432.97 532.31,431.05 532.45,432.45 532.58,432.15 532.72,431.64 532.86,433.80 533.00,431.80 533.14,432.51 533.28,433.28 533.42,432.77 533.56,432.56 533.70,432.53 533.84,432.20 533.97,431.94 534.11,433.22 534.25,433.05 534.39,432.77 534.53,433.43 534.67,434.25 534.81,431.85 534.95,431.68 535.09,431.78 535.23,433.34 535.36,432.43 535.50,431.12 535.64,433.16 535.78,432.82 535.92,432.14 536.06,430.86 536.20,431.36 536.34,430.90 536.48,431.64 536.62,434.14 536.75,432.71 536.89,430.07 537.03,429.99 537.17,430.45 537.31,430.34 537.45,432.34 537.59,429.59 537.73,432.75 537.87,431.33 538.01,431.10 538.14,430.88 538.28,433.10 538.42,429.97 538.56,431.64 538.70,428.91 538.84,429.35 538.98,430.62 539.12,431.44 539.26,431.45 539.40,427.84 539.53,432.28 539.67,429.60 539.81,431.48 539.95,433.22 540.09,431.51 540.23,428.20 540.37,429.83 540.51,429.60 540.65,430.66 540.79,430.27 540.92,431.92 541.06,428.52 541.20,429.87 541.34,431.49 541.48,429.54 541.62,431.52 541.76,428.74 541.90,431.57 542.04,431.45 542.18,429.79 542.31,431.65 542.45,429.93 542.59,429.65 542.73,429.60 542.87,429.76 543.01,429.96 543.15,430.49 543.29,429.82 543.43,429.42 543.57,432.20 543.70,430.46 543.84,427.48 543.98,428.95 544.12,430.44 544.26,428.70 544.40,430.64 544.54,432.46 544.68,427.61 544.82,432.27 544.96,428.52 545.09,428.84 545.23,429.65 545.37,428.15 545.51,428.89 545.65,428.92 545.79,427.54 545.93,431.49 546.07,430.62 546.21,426.09 546.35,430.83 546.48,427.93 546.62,430.18 546.76,428.48 546.90,430.69 547.04,429.74 547.18,429.60 547.32,429.63 547.46,430.73 547.60,430.93 547.74,429.25 547.87,429.08 548.01,428.12 548.15,431.53 548.29,428.11 548.43,430.46 548.57,429.37 548.71,430.68 548.85,430.24 548.99,430.48 549.13,429.64 549.26,429.16 549.40,430.04 549.54,428.76 549.68,431.82 549.82,430.23 549.96,430.22 550.10,429.08 550.24,429.37 550.38,428.54 550.52,431.15 550.65,430.10 550.79,429.66 550.93,431.08 551.07,429.86 551.21,426.08 551.35,429.22 551.49,428.85 551.63,430.79 551.77,427.41 551.91,430.39 552.04,430.15 552.18,428.09 552.32,429.10 552.46,429.14 552.60,428.64 552.74,427.94 552.88,430.11 553.02,427.82 553.16,429.22 553.30,430.55 553.43,428.04 553.57,430.86 553.71,429.69 553.85,430.30 553.99,429.26 554.13,429.49 554.27,428.82 554.41,429.70 554.55,428.70 554.69,430.05 554.82,429.87 554.96,429.37 555.10,427.93 555.24,429.71 555.38,431.08 555.52,428.63 555.66,431.89 555.80,431.66 555.94,430.25 556.08,427.89 556.21,430.55 556.35,429.30 556.49,430.99 556.63,428.64 556.77,431.48 556.91,429.15 557.05,430.03 557.19,429.79 557.33,429.97 557.47,428.89 557.60,429.62 557.74,427.78 557.88,430.54 558.02,428.65 558.16,432.06 558.30,430.25 558.44,428.91 558.58,431.25 558.72,431.71 558.86,429.39 558.99,428.92 559.13,428.10 559.27,430.63 559.41,429.56 559.55,429.63 559.69,430.20 559.83,428.55 559.97,431.82 560.11,429.55 560.25,430.93 560.38,431.39 560.52,430.68 560.66,430.64 560.80,429.27 560.94,431.40 561.08,428.65 561.22,429.59 561.36,429.20 561.50,425.48 561.64,428.05 561.77,427.24 561.91,429.49 562.05,429.82 562.19,427.30 562.33,426.71 562.47,428.77 562.61,427.71 562.75,430.69 562.89,428.00 563.03,425.69 563.16,429.05 563.30,425.39 563.44,424.32 563.58,431.62 563.72,426.83 563.86,427.45 564.00,427.49 564.14,427.62 564.28,426.72 564.42,428.32 564.55,429.79 564.69,426.87 564.83,430.18 564.97,424.88 565.11,429.38 565.25,426.95 565.39,425.98 565.53,423.77 565.67,427.97 565.81,426.19 565.94,424.08 566.08,419.34 566.22,424.01 566.36,425.75 566.50,423.30 566.64,425.47 566.78,423.66 566.92,428.00 567.06,422.90 567.20,421.64 567.33,422.30 567.47,421.29 567.61,423.62 567.75,418.18 567.89,418.06 568.03,419.06 568.17,416.95 568.31,422.93 568.45,415.31 568.59,413.53 568.72,416.32 568.86,418.61 569.00,420.32 569.14,409.87 569.28,411.89 569.42,409.36 569.56,416.49 569.70,414.87 569.84,417.98 569.98,405.85 570.11,411.47 570.25,413.81 570.39,410.83 570.53,406.16 570.67,407.07 570.81,408.14 570.95,408.63 571.09,402.64 571.23,402.90 571.37,408.85 571.50,404.39 571.64,404.09 571.78,401.44 571.92,402.16 572.06,391.06 572.20,401.33 572.34,397.40 572.48,395.89 572.62,397.50 572.76,389.76 572.89,392.45 573.03,388.70 573.17,395.26 573.31,387.59 573.45,384.83 573.59,389.78 573.73,388.67 573.87,379.58 574.01,384.12 574.15,387.07 574.28,379.13 574.42,378.51 574.56,378.25 574.70,377.55 574.84,376.91 574.98,370.95 575.12,370.59 575.26,365.21 575.40,357.27 575.54,371.43 575.67,372.20 575.81,358.92 575.95,361.86 576.09,350.75 576.23,352.32 576.37,353.42 576.51,350.85 576.65,345.49 576.79,352.48 576.93,344.41 577.06,338.07 577.20,325.75 577.34,322.67 577.48,328.59 577.62,315.50 577.76,323.02 577.90,318.93 578.04,305.58 578.18,316.48 578.32,310.47 578.45,310.15 578.59,300.50 578.73,302.84 578.87,299.95 579.01,297.82 579.15,299.19 579.29,292.20 579.43,291.50 579.57,291.50 579.71,297.12 579.84,293.46 579.98,299.34 580.12,301.97 580.26,305.47 580.40,301.78 580.54,294.67 580.68,298.24 580.82,308.81 580.96,307.36 581.10,306.46 581.23,308.73 581.37,319.26 581.51,325.53 581.65,321.05 581.79,318.93 581.93,330.46 582.07,328.08 582.21,341.32 582.35,345.81 582.49,337.81 582.62,349.45 582.76,356.80 582.90,359.38 583.04,362.39 583.18,367.00 583.32,365.25 583.46,377.57 583.60,375.60 583.74,376.18 583.88,372.75 584.01,390.57 584.15,387.64 584.29,391.94 584.43,398.24 584.57,397.37 584.71,399.39 584.85,405.14 584.99,409.66 585.13,414.62 585.27,414.77 585.40,412.52 585.54,416.23 585.68,414.23 585.82,416.12 585.96,417.16 586.10,422.99 586.24,423.03 586.38,427.00 586.52,425.23 586.66,426.61 586.79,427.12 586.93,427.42 587.07,426.42 587.21,429.65 587.35,426.20 587.49,427.59 587.63,430.79 587.77,428.58 587.91,430.17 588.05,430.92 588.18,430.51 588.32,429.88 588.46,430.38 588.60,430.71 588.74,431.22 588.88,430.62 589.02,429.92 589.16,430.47 589.30,431.47 589.44,430.83 589.57,432.37 589.71,430.52 589.85,433.28 589.99,430.59 590.13,430.53 590.27,433.12 590.41,432.99 590.55,432.57 590.69,432.46 590.83,429.48 590.96,430.12 591.10,432.08 591.24,430.99 591.38,433.81 591.52,429.29 591.66,430.20 591.80,433.13 591.94,432.59 592.08,431.45 592.22,432.72 592.35,430.91 592.49,430.62 592.63,430.03 592.77,430.44 592.91,432.27 593.05,430.07 593.19,432.02 593.33,431.88 593.47,429.93 593.61,431.38 593.74,433.29 593.88,432.92 594.02,432.82 594.16,431.90 594.30,433.69 594.44,433.96 594.58,432.35 594.72,431.90 594.86,433.82 595.00,430.64 595.13,432.53 595.27,431.38 595.41,433.29 595.55,433.17 595.69,432.99 595.83,433.34 595.97,431.25 596.11,432.67 596.25,431.33 596.39,433.02 596.52,432.57 596.66,431.91 596.80,429.90 596.94,431.37 597.08,431.24 597.22,432.02 597.36,432.61 597.50,431.65 597.64,432.07 597.78,434.91 597.91,431.78 598.05,430.38 598.19,433.97 598.33,432.07 598.47,433.39 598.61,432.05 598.75,431.90 598.89,431.41 599.03,431.09 599.17,433.03 599.30,431.60 599.44,432.61 599.58,430.95 599.72,432.12 599.86,430.49 600.00,430.93 600.14,431.69 600.28,432.75 600.42,431.88 600.56,432.57 600.69,432.78 600.83,430.76 600.97,430.58 601.11,430.88 601.25,430.22 601.39,433.18 601.53,431.93 601.67,431.97 601.81,431.98 601.95,432.83 602.08,429.29 602.22,430.89 602.36,430.82 602.50,431.64 602.64,432.96 602.78,432.55 602.92,432.72 603.06,431.44 603.20,432.28 603.34,430.86 603.47,431.90 603.61,431.80 603.75,432.60 603.89,432.76 604.03,433.30 604.17,430.68 604.31,430.82 604.45,432.88 604.59,430.41 604.73,430.00 604.86,433.49 605.00,431.94 605.14,434.02 605.28,431.50 605.42,432.50 605.56,433.45 605.70,432.01 605.84,431.74 605.98,433.00 606.12,431.65 606.25,432.04 606.39,430.90 606.53,431.66 606.67,432.67 606.81,432.25 606.95,433.03 607.09,432.27 607.23,431.88 607.37,431.73 607.51,431.69 607.64,431.06 607.78,432.39 607.92,433.10 608.06,432.72 608.20,433.39 608.34,431.86 608.48,433.54 608.62,433.23 608.76,433.19 608.90,431.04 609.03,433.09 609.17,432.89 609.31,432.05 609.45,432.22 609.59,432.00 609.73,431.42 609.87,431.44 610.01,432.62 610.15,431.06 610.29,433.36 610.42,431.98 610.56,431.07 610.70,434.35 610.84,432.91 610.98,432.24 611.12,434.57 611.26,430.80 611.40,432.97 611.54,431.26 611.68,432.99 611.81,432.83 611.95,431.86 612.09,432.36 612.23,432.69 612.37,432.23 612.51,431.60 612.65,432.14 612.79,433.05 612.93,434.60 613.07,432.78 613.20,431.94 613.34,434.36 613.48,432.80 613.62,432.02 613.76,432.58 613.90,431.25 614.04,432.06 614.18,433.42 614.32,432.70 614.46,431.89 614.59,432.48 614.73,432.23 614.87,433.08 615.01,432.79 615.15,433.06 615.29,431.60 615.43,431.66 615.57,432.96 615.71,433.14 615.85,435.00 615.98,432.34 616.12,432.25 616.26,433.56 616.40,431.05 616.54,431.81 616.68,431.78 616.82,433.20 616.96,433.09 617.10,431.54 617.24,432.45 617.37,431.30 617.51,432.30 617.65,432.04 617.79,433.33 617.93,432.58 618.07,434.40 618.21,432.36 618.35,431.13 618.49,431.98 618.63,432.89 618.76,430.62 618.90,433.53 619.04,432.68 619.18,433.35 619.32,431.57 619.46,433.80 619.60,431.21 619.74,431.10 619.88,432.72 620.02,432.52 620.15,432.45 620.29,430.53 620.43,431.01 620.57,432.34 620.71,431.51 620.85,431.33 620.99,432.99 621.13,432.62 621.27,432.45 621.41,432.80 621.54,433.02 621.68,432.69 621.82,431.15 621.96,433.30 622.10,432.35 622.24,433.54 622.38,432.63 622.52,432.93 622.66,432.59 622.80,433.45 622.93,432.43 623.07,432.03 623.21,433.06 623.35,432.68 623.49,433.48 623.63,431.54 623.77,433.87 623.91,433.62 624.05,433.08 624.19,433.19 624.32,432.64 624.46,433.07 624.60,432.46 624.74,433.41 624.88,431.86 625.02,431.65 625.16,433.50 625.30,432.97 625.44,433.40 625.58,432.77 625.71,433.09 625.85,433.40 625.99,433.00 626.13,432.72 626.27,432.59 626.41,431.62 626.55,433.48 626.69,432.87 626.83,433.22 626.97,432.18 627.10,433.51 627.24,432.66 627.38,432.86 627.52,432.50 627.66,432.90 627.80,433.01 627.94,433.73 628.08,432.77 628.22,431.90 628.36,433.39 628.49,432.78 628.63,432.26 628.77,433.57 628.91,432.19 629.05,434.55 629.19,433.65 629.33,431.44 629.47,432.76 629.61,433.70 629.75,432.86 629.88,434.72 630.02,433.42 630.16,433.29 630.30,432.42 630.44,433.14 630.58,432.44 630.72,431.59 630.86,432.33 631.00,432.74 631.14,433.33 631.27,434.22 631.41,433.30 631.55,432.66 631.69,433.83 631.83,433.36 631.97,433.22 632.11,433.41 632.25,432.88 632.39,433.23 632.53,434.92 632.66,433.81 632.80,431.78 632.94,432.58 633.08,432.55 633.22,433.74 633.36,434.29 633.50,433.98 633.64,433.04 633.78,434.55 633.92,432.63 634.05,433.93 634.19,432.16 634.33,432.57 634.47,433.59 634.61,433.77 634.75,433.38 634.89,433.84 635.03,434.39 635.17,433.79 635.31,433.35 635.44,435.00 635.58,432.68 635.72,434.19 635.86,433.77 636.00,433.18 636.14,433.73 636.28,433.40 636.42,433.89 636.56,434.24 636.70,433.42 636.83,433.93 636.97,434.11 637.11,434.52 637.25,432.34 637.39,433.60 637.53,433.42 637.67,434.45 637.81,432.95 637.95,432.50 638.09,432.32 638.22,433.50 638.36,433.75 638.50,434.34 638.64,434.09 638.78,433.59 638.92,433.81 639.06,433.16 639.20,433.08 639.34,434.10 639.48,432.72 639.61,433.91 639.75,434.59 639.89,434.39 640.03,433.57 640.17,434.82 640.31,433.09 640.45,434.37 640.59,433.81 640.73,434.97 640.87,433.19 641.00,433.54 641.14,434.76 641.28,434.51 641.42,434.30 641.56,434.90 641.70,433.39 641.84,434.76 641.98,433.74 642.12,434.65 642.26,434.81 642.39,433.95 642.53,432.74 642.67,434.07 642.81,433.47 642.95,434.07 643.09,433.32 643.23,434.27 643.37,433.26 643.51,435.00 643.65,433.73 643.78,434.07 643.92,433.96 644.06,434.00 644.20,434.02 644.34,434.07 644.48,434.06 644.62,434.68 644.76,434.73 644.90,435.00 645.04,434.91 645.17,434.64 645.31,434.89 645.45,434.18 645.59,434.39 645.73,433.72 645.87,435.00 646.01,435.00 646.15,434.11 646.29,434.40 646.43,434.38 646.56,434.93 646.70,434.51 646.84,435.00 646.98,434.72 647.12,434.62 647.26,434.52 647.40,435.00 647.54,434.31 647.68,435.00 647.82,435.00 647.95,434.71 648.09,434.56 648.23,435.00 648.37,433.80 648.51,434.64 648.65,434.33 648.79,434.74 648.93,435.00 649.07,434.56 649.21,435.00 649.34,434.19 649.48,434.66 649.62,434.77 649.76,434.66 649.90,435.00 650.04,434.48 650.18,434.60 650.32,434.81 650.46,435.00 650.60,434.47 650.73,435.00 650.87,434.40 651.01,434.21 651.15,435.00 651.29,434.94 651.43,434.61 651.57,434.60 651.71,434.85 651.85,434.33 651.99,434.67 652.12,434.79 652.26,434.91 652.40,434.75 652.54,434.90 652.68,434.90 652.82,434.16 652.96,434.63 653.10,434.83 653.24,435.00 653.38,434.92 653.51,434.27 653.65,435.00 653.79,434.59 653.93,435.00 654.07,434.82 654.21,434.62 654.35,434.72 654.49,434.68 654.63,435.00 654.77,435.00 654.90,434.65 655.04,433.99 655.18,434.97 655.32,435.00 655.46,434.79 655.60,435.00 655.74,434.76 655.88,434.41 656.02,434.44 656.16,434.88 656.29,434.65 656.43,435.00 656.57,435.00 656.71,434.93 656.85,435.00 656.99,435.00 657.13,435.00 657.27,435.00 657.41,434.34 657.55,434.92 657.68,434.66 657.82,434.62 657.96,434.84" fill="none" stroke="#000" stroke-width="0.9" stroke-linejoin="round"/>
<line x1="101.60" y1="510.80" x2="101.60" y2="663.95" stroke="#000" stroke-width="1.3"/>
<line x1="101.00" y1="663.30" x2="329.30" y2="663.30" stroke="#000" stroke-width="1.3"/>
<line x1="95.30" y1="663.30" x2="101.60" y2="663.30" stroke="#000" stroke-width="1.3"/>
<text x="75.32" y="667.70" font-size="11.16" font-weight="bold" fill="#000" textLength="13.68" lengthAdjust="spacingAndGlyphs">10</text>
<text x="89.71" y="664.70" font-size="7.60" font-weight="normal" fill="#000" stroke="#000" stroke-width="0.1">3</text>
<line x1="95.30" y1="625.35" x2="101.60" y2="625.35" stroke="#000" stroke-width="1.3"/>
<text x="75.32" y="629.75" font-size="11.16" font-weight="bold" fill="#000" textLength="13.68" lengthAdjust="spacingAndGlyphs">10</text>
<text x="89.83" y="626.75" font-size="7.60" font-weight="normal" fill="#000" stroke="#000" stroke-width="0.1">4</text>
<line x1="95.30" y1="587.40" x2="101.60" y2="587.40" stroke="#000" stroke-width="1.3"/>
<text x="75.32" y="591.80" font-size="11.16" font-weight="bold" fill="#000" textLength="13.68" lengthAdjust="spacingAndGlyphs">10</text>
<text x="89.70" y="588.80" font-size="7.60" font-weight="normal" fill="#000" stroke="#000" stroke-width="0.1">5</text>
<line x1="95.30" y1="549.45" x2="101.60" y2="549.45" stroke="#000" stroke-width="1.3"/>
<text x="75.32" y="553.85" font-size="11.16" font-weight="bold" fill="#000" textLength="13.68" lengthAdjust="spacingAndGlyphs">10</text>
<text x="89.61" y="550.85" font-size="7.60" font-weight="normal" fill="#000" stroke="#000" stroke-width="0.1">6</text>
<line x1="95.30" y1="511.50" x2="101.60" y2="511.50" stroke="#000" stroke-width="1.3"/>
<text x="75.32" y="515.90" font-size="11.16" font-weight="bold" fill="#000" textLength="13.68" lengthAdjust="spacingAndGlyphs">10</text>
<text x="89.61" y="512.90" font-size="7.60" font-weight="normal" fill="#000" stroke="#000" stroke-width="0.1">7</text>
<line x1="101.60" y1="663.30" x2="101.60" y2="669.50" stroke="#000" stroke-width="1.3"/>
<text x="98.55" y="683.10" font-size="11.70" font-weight="bold" fill="#000" textLength="6.31" lengthAdjust="spacingAndGlyphs">0</text>
<line x1="215.30" y1="663.30" x2="215.30" y2="669.50" stroke="#000" stroke-width="1.3"/>
<text x="208.92" y="683.10" font-size="11.70" font-weight="bold" fill="#000" textLength="12.62" lengthAdjust="spacingAndGlyphs">24</text>
<line x1="329.00" y1="663.30" x2="329.00" y2="669.50" stroke="#000" stroke-width="1.3"/>
<text x="322.88" y="683.10" font-size="11.70" font-weight="bold" fill="#000" textLength="12.62" lengthAdjust="spacingAndGlyphs">48</text>
<text transform="translate(57.90,620.80) rotate(-90)" font-size="12.26" font-weight="bold" fill="#000">Cell counts</text>
<text x="104.56" y="708.60" font-size="12.42" font-weight="bold" fill="#000">Time after addition of 5-Ad-IAA (hour)</text>
<line x1="120.30" y1="519.00" x2="136.40" y2="519.00" stroke="#ff1f1f" stroke-width="1.0"/>
<text x="145.70" y="523.00" font-size="12.10" font-weight="normal" fill="#000" textLength="78.33" lengthAdjust="spacingAndGlyphs">5μM 5-Ad-IAA</text>
<line x1="120.30" y1="539.20" x2="136.40" y2="539.20" stroke="#222" stroke-width="1.0"/>
<text x="145.27" y="543.20" font-size="12.10" font-weight="normal" fill="#000">Untreated</text>
<rect x="98.00" y="595.10" width="7.2" height="7.2" fill="none" stroke="#ff1f1f" stroke-opacity="0.55" stroke-width="1.1"/>
<ellipse cx="101.60" cy="598.70" rx="2.8" ry="3.08" fill="#999" fill-opacity="0.3" stroke="#777" stroke-opacity="0.5" stroke-width="0.8"/>
<polyline points="101.60,598.70 215.30,573.30 329.00,541.60" fill="none" stroke="#111" stroke-width="1.0"/>
<polyline points="101.60,598.70 215.30,618.90 329.00,631.20" fill="none" stroke="#ff1f1f" stroke-width="1.0"/>
<ellipse cx="215.30" cy="568.80" rx="2.9" ry="3.19" fill="#999" fill-opacity="0.45" stroke="#777" stroke-opacity="0.5" stroke-width="0.8"/>
<ellipse cx="215.30" cy="572.50" rx="2.9" ry="3.19" fill="#999" fill-opacity="0.45" stroke="#777" stroke-opacity="0.5" stroke-width="0.8"/>
<ellipse cx="215.30" cy="577.80" rx="2.9" ry="3.19" fill="#999" fill-opacity="0.45" stroke="#777" stroke-opacity="0.5" stroke-width="0.8"/>
<line x1="215.30" y1="570.50" x2="215.30" y2="576.60" stroke="#000" stroke-width="2.4"/>
<line x1="212.05" y1="570.50" x2="218.55" y2="570.50" stroke="#000" stroke-width="2.4"/>
<line x1="212.05" y1="576.60" x2="218.55" y2="576.60" stroke="#000" stroke-width="2.4"/>
<ellipse cx="329.00" cy="536.30" rx="2.9" ry="3.19" fill="#999" fill-opacity="0.45" stroke="#777" stroke-opacity="0.5" stroke-width="0.8"/>
<ellipse cx="329.00" cy="540.00" rx="2.9" ry="3.19" fill="#999" fill-opacity="0.45" stroke="#777" stroke-opacity="0.5" stroke-width="0.8"/>
<ellipse cx="329.00" cy="547.60" rx="2.9" ry="3.19" fill="#999" fill-opacity="0.45" stroke="#777" stroke-opacity="0.5" stroke-width="0.8"/>
<line x1="329.00" y1="537.80" x2="329.00" y2="545.90" stroke="#000" stroke-width="2.4"/>
<line x1="325.75" y1="537.80" x2="332.25" y2="537.80" stroke="#000" stroke-width="2.4"/>
<line x1="325.75" y1="545.90" x2="332.25" y2="545.90" stroke="#000" stroke-width="2.4"/>
<rect x="212.00" y="609.50" width="6.6" height="6.6" fill="none" stroke="#ff1f1f" stroke-opacity="0.55" stroke-width="1.1"/>
<rect x="212.00" y="613.70" width="6.6" height="6.6" fill="none" stroke="#ff1f1f" stroke-opacity="0.55" stroke-width="1.1"/>
<rect x="212.00" y="621.20" width="6.6" height="6.6" fill="none" stroke="#ff1f1f" stroke-opacity="0.55" stroke-width="1.1"/>
<rect x="212.00" y="622.30" width="6.6" height="6.6" fill="none" stroke="#ff1f1f" stroke-opacity="0.55" stroke-width="1.1"/>
<line x1="215.30" y1="611.70" x2="215.30" y2="627.70" stroke="#ff1f1f" stroke-width="2.3"/>
<line x1="212.15" y1="611.70" x2="218.45" y2="611.70" stroke="#ff1f1f" stroke-width="2.3"/>
<line x1="212.15" y1="627.70" x2="218.45" y2="627.70" stroke="#ff1f1f" stroke-width="2.3"/>
<rect x="325.70" y="623.70" width="6.6" height="6.6" fill="none" stroke="#ff1f1f" stroke-opacity="0.55" stroke-width="1.1"/>
<rect x="325.70" y="626.70" width="6.6" height="6.6" fill="none" stroke="#ff1f1f" stroke-opacity="0.55" stroke-width="1.1"/>
<rect x="325.70" y="633.20" width="6.6" height="6.6" fill="none" stroke="#ff1f1f" stroke-opacity="0.55" stroke-width="1.1"/>
<rect x="325.70" y="634.00" width="6.6" height="6.6" fill="none" stroke="#ff1f1f" stroke-opacity="0.55" stroke-width="1.1"/>
<line x1="329.00" y1="626.00" x2="329.00" y2="638.30" stroke="#ff1f1f" stroke-width="2.3"/>
<line x1="325.85" y1="626.00" x2="332.15" y2="626.00" stroke="#ff1f1f" stroke-width="2.3"/>
<line x1="325.85" y1="638.30" x2="332.15" y2="638.30" stroke="#ff1f1f" stroke-width="2.3"/>
<line x1="398.90" y1="520.80" x2="398.90" y2="664.45" stroke="#000" stroke-width="1.3"/>
<line x1="398.30" y1="663.80" x2="411.90" y2="663.80" stroke="#000" stroke-width="1.3"/>
<line x1="417.60" y1="663.80" x2="605.30" y2="663.80" stroke="#000" stroke-width="1.3"/>
<line x1="411.90" y1="522.20" x2="411.90" y2="664.45" stroke="#000" stroke-width="1.3"/>
<line x1="417.60" y1="522.20" x2="417.60" y2="664.45" stroke="#000" stroke-width="1.3"/>
<line x1="393.20" y1="663.80" x2="398.90" y2="663.80" stroke="#000" stroke-width="1.3"/>
<text x="374.22" y="667.50" font-size="11.01" font-weight="bold" fill="#000" textLength="12.03" lengthAdjust="spacingAndGlyphs">10</text>
<text x="387.02" y="665.10" font-size="7.30" font-weight="normal" fill="#000" stroke="#000" stroke-width="0.1">3</text>
<line x1="393.20" y1="628.20" x2="398.90" y2="628.20" stroke="#000" stroke-width="1.3"/>
<text x="374.22" y="631.90" font-size="11.01" font-weight="bold" fill="#000" textLength="12.03" lengthAdjust="spacingAndGlyphs">10</text>
<text x="387.13" y="629.50" font-size="7.30" font-weight="normal" fill="#000" stroke="#000" stroke-width="0.1">4</text>
<line x1="393.20" y1="592.60" x2="398.90" y2="592.60" stroke="#000" stroke-width="1.3"/>
<text x="374.22" y="596.30" font-size="11.01" font-weight="bold" fill="#000" textLength="12.03" lengthAdjust="spacingAndGlyphs">10</text>
<text x="387.01" y="593.90" font-size="7.30" font-weight="normal" fill="#000" stroke="#000" stroke-width="0.1">5</text>
<line x1="393.20" y1="557.00" x2="398.90" y2="557.00" stroke="#000" stroke-width="1.3"/>
<text x="374.22" y="560.70" font-size="11.01" font-weight="bold" fill="#000" textLength="12.03" lengthAdjust="spacingAndGlyphs">10</text>
<text x="386.93" y="558.30" font-size="7.30" font-weight="normal" fill="#000" stroke="#000" stroke-width="0.1">6</text>
<line x1="393.20" y1="521.40" x2="398.90" y2="521.40" stroke="#000" stroke-width="1.3"/>
<text x="374.22" y="525.10" font-size="11.01" font-weight="bold" fill="#000" textLength="12.03" lengthAdjust="spacingAndGlyphs">10</text>
<text x="386.93" y="522.70" font-size="7.30" font-weight="normal" fill="#000" stroke="#000" stroke-width="0.1">7</text>
<line x1="398.90" y1="663.80" x2="398.90" y2="669.50" stroke="#000" stroke-width="1.3"/>
<text x="396.01" y="681.70" font-size="11.70" font-weight="bold" fill="#000" textLength="5.99" lengthAdjust="spacingAndGlyphs">0</text>
<line x1="428.60" y1="663.80" x2="428.60" y2="669.50" stroke="#000" stroke-width="1.3"/>
<text x="425.69" y="681.70" font-size="11.70" font-weight="bold" fill="#000" textLength="5.99" lengthAdjust="spacingAndGlyphs">5</text>
<line x1="482.20" y1="663.80" x2="482.20" y2="669.50" stroke="#000" stroke-width="1.3"/>
<text x="476.37" y="681.70" font-size="11.70" font-weight="bold" fill="#000" textLength="11.97" lengthAdjust="spacingAndGlyphs">50</text>
<line x1="535.30" y1="663.80" x2="535.30" y2="669.50" stroke="#000" stroke-width="1.3"/>
<text x="526.48" y="681.70" font-size="11.70" font-weight="bold" fill="#000" textLength="17.96" lengthAdjust="spacingAndGlyphs">500</text>
<line x1="588.60" y1="663.80" x2="588.60" y2="669.50" stroke="#000" stroke-width="1.3"/>
<text x="576.78" y="681.70" font-size="11.70" font-weight="bold" fill="#000" textLength="23.95" lengthAdjust="spacingAndGlyphs">5000</text>
<text transform="translate(369.00,609.06) rotate(-90)" font-size="13.70" font-weight="bold" fill="#000">Cell counts</text>
<text x="462.88" y="708.00" font-size="13.62" font-weight="bold" fill="#000">5-Ad-IAA (nM)</text>
<clipPath id="brk2"><rect x="0" y="0" width="411.9" height="712"/><rect x="417.6" y="0" width="300" height="712"/></clipPath>
<polyline points="398.90,549.30 428.60,597.40 482.20,620.60 535.30,630.30 588.60,633.80" fill="none" stroke="#222" stroke-width="0.9" clip-path="url(#brk2)"/>
<ellipse cx="398.90" cy="547.50" rx="2.8" ry="3.08" fill="#999" fill-opacity="0.45" stroke="#777" stroke-opacity="0.5" stroke-width="0.8"/>
<ellipse cx="398.90" cy="551.50" rx="2.8" ry="3.08" fill="#999" fill-opacity="0.45" stroke="#777" stroke-opacity="0.5" stroke-width="0.8"/>
<line x1="398.90" y1="546.20" x2="398.90" y2="552.80" stroke="#000" stroke-width="2.1"/>
<line x1="395.90" y1="546.20" x2="401.90" y2="546.20" stroke="#000" stroke-width="2.1"/>
<line x1="395.90" y1="552.80" x2="401.90" y2="552.80" stroke="#000" stroke-width="2.1"/>
<ellipse cx="428.60" cy="593.00" rx="2.9" ry="3.19" fill="#999" fill-opacity="0.45" stroke="#777" stroke-opacity="0.5" stroke-width="0.8"/>
<circle cx="428.6" cy="610.5" r="2.9" fill="#fff" stroke="#666" stroke-width="0.8"/>
<line x1="428.60" y1="591.50" x2="428.60" y2="608.30" stroke="#000" stroke-width="2.1"/>
<line x1="425.60" y1="591.50" x2="431.60" y2="591.50" stroke="#000" stroke-width="2.1"/>
<line x1="425.60" y1="608.30" x2="431.60" y2="608.30" stroke="#000" stroke-width="2.1"/>
<ellipse cx="482.20" cy="615.50" rx="2.9" ry="3.19" fill="#999" fill-opacity="0.45" stroke="#777" stroke-opacity="0.5" stroke-width="0.8"/>
<circle cx="482.2" cy="633.3" r="2.9" fill="#fff" stroke="#666" stroke-width="0.8"/>
<line x1="482.20" y1="614.40" x2="482.20" y2="632.00" stroke="#000" stroke-width="2.1"/>
<line x1="479.20" y1="614.40" x2="485.20" y2="614.40" stroke="#000" stroke-width="2.1"/>
<line x1="479.20" y1="632.00" x2="485.20" y2="632.00" stroke="#000" stroke-width="2.1"/>
<ellipse cx="535.30" cy="630.30" rx="3.2" ry="3.52" fill="#999" fill-opacity="0.8" stroke="#777" stroke-opacity="0.5" stroke-width="0.8"/>
<line x1="535.30" y1="629.30" x2="535.30" y2="631.30" stroke="#000" stroke-width="1.8"/>
<line x1="532.80" y1="629.30" x2="537.80" y2="629.30" stroke="#000" stroke-width="1.8"/>
<line x1="532.80" y1="631.30" x2="537.80" y2="631.30" stroke="#000" stroke-width="1.8"/>
<ellipse cx="588.60" cy="629.00" rx="2.9" ry="3.19" fill="#999" fill-opacity="0.45" stroke="#777" stroke-opacity="0.5" stroke-width="0.8"/>
<ellipse cx="588.60" cy="639.50" rx="2.9" ry="3.19" fill="#999" fill-opacity="0.45" stroke="#777" stroke-opacity="0.5" stroke-width="0.8"/>
<line x1="588.60" y1="628.60" x2="588.60" y2="640.00" stroke="#000" stroke-width="2.1"/>
<line x1="585.60" y1="628.60" x2="591.60" y2="628.60" stroke="#000" stroke-width="2.1"/>
<line x1="585.60" y1="640.00" x2="591.60" y2="640.00" stroke="#000" stroke-width="2.1"/>
</svg>
</body></html>
